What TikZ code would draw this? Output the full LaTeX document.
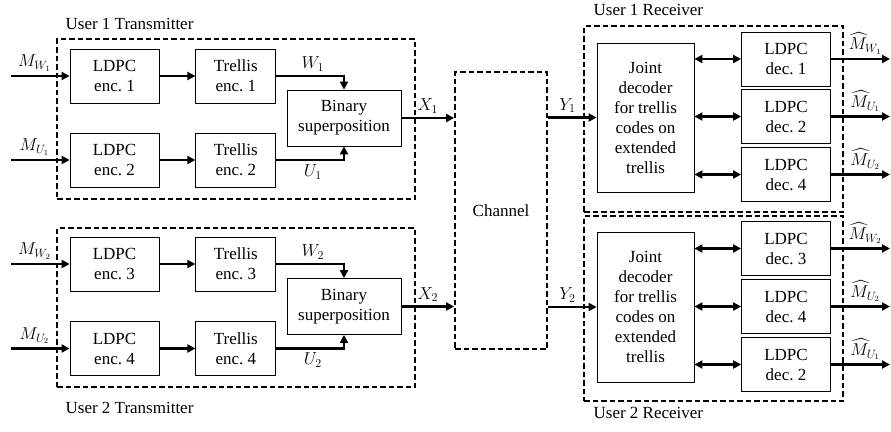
\documentclass[tikz,border=0pt]{standalone}
\usepackage{amsmath}
\usepackage{fontspec}
\setmainfont{Liberation Serif}
\usetikzlibrary{positioning,arrows.meta}

\begin{document}
\begin{tikzpicture}[x=1pt, y=-1pt, font=\fontsize{17}{20}\selectfont,
    block/.style={draw, line width=0.8pt, minimum width=89pt, minimum height=54pt, align=center, inner sep=1pt},
    trellis/.style={block, minimum width=80pt},
    group/.style={draw, line width=1.8pt, dash pattern=on 5.5pt off 3pt, inner sep=0pt},
    sig/.style={line width=2.6pt, -{Triangle[length=8pt,width=8pt]}},
    bisig/.style={line width=2.6pt, {Triangle[length=8pt,width=8pt]}-{Triangle[length=8pt,width=8pt]}}]

    \useasboundingbox (0,0) rectangle (891,431);

    % user 1 transmitter
    \node[block] (le1) at (114.5,76) {LDPC\\enc.~1};
    \node[trellis] (te1) [right=36pt of le1] {Trellis\\enc.~1};
    \node[block] (le2) at (114.5,160) {LDPC\\enc.~2};
    \node[trellis] (te2) [right=36pt of le2] {Trellis\\enc.~2};
    \node[block, minimum width=114pt, minimum height=56pt] (bs1) at (344,118) {Binary\\superposition};
    \node[group, minimum width=358pt, minimum height=160pt] (tx1) at (236,119) {};
    \node[anchor=south west] (tx1lbl) at ([xshift=6pt,yshift=5pt]tx1.north west) {User 1 Transmitter};

    % user 2 transmitter
    \node[block] (le3) at (114.5,264) {LDPC\\enc.~3};
    \node[trellis] (te3) [right=36pt of le3] {Trellis\\enc.~3};
    \node[block] (le4) at (114.5,348.5) {LDPC\\enc.~4};
    \node[trellis] (te4) [right=36pt of le4] {Trellis\\enc.~4};
    \node[block, minimum width=114pt, minimum height=56pt] (bs2) at (344,306.5) {Binary\\superposition};
    \node[group, minimum width=358pt, minimum height=159pt] (tx2) at (236,307.5) {};
    \node[anchor=north west] (tx2lbl) at ([xshift=6pt,yshift=-11pt]tx2.south west) {User 2 Transmitter};

    % channel
    \node[group, minimum width=92pt, minimum height=277pt] (chan) at (501,210.5) {Channel};

    % user 1 receiver
    \node[block, minimum width=97pt, minimum height=149pt] (jd1) at (645.5,117.5)
        {Joint\\decoder\\for trellis\\codes on\\extended\\trellis};
    \node[block] (ld1) at (786,59) {LDPC\\dec.~1};
    \node[block] (ld2) at (786,116.5) {LDPC\\dec.~2};
    \node[block] (ld4) at (786,174.5) {LDPC\\dec.~4};
    \node[group, minimum width=259pt, minimum height=186pt] (rx1) at (713.5,119) {};
    \node[anchor=south west] (rx1lbl) at ([xshift=7pt,yshift=6pt]rx1.north west) {User 1 Receiver};

    % user 2 receiver
    \node[block, minimum width=97pt, minimum height=150pt] (jd2) at (645.5,307)
        {Joint\\decoder\\for trellis\\codes on\\extended\\trellis};
    \node[block] (ld3b) at (786,248.5) {LDPC\\dec.~3};
    \node[block] (ld4b) at (786,306.5) {LDPC\\dec.~4};
    \node[block] (ld2b) at (786,364.5) {LDPC\\dec.~2};
    \node[group, minimum width=259pt, minimum height=185pt] (rx2) at (713.5,308.5) {};
    \node[anchor=north west] (rx2lbl) at ([xshift=7pt,yshift=-2pt]rx2.south west) {User 2 Receiver};

    % free ends
    \coordinate (inW1) at (11,76);
    \coordinate (inU1) at (11,160);
    \coordinate (inW2) at (11,264);
    \coordinate (inU2) at (11,348.5);
    \coordinate (outW1) at (890,59);
    \coordinate (outU1) at (890,116.5);
    \coordinate (outU2) at (890,174.5);
    \coordinate (outW2b) at (890,248.5);
    \coordinate (outU2b) at (890,306.5);
    \coordinate (outU1b) at (890,364.5);

    \path[sig]
        (inW1) edge node[above, pos=0.4] {$M_{W_1}$} (le1)
        (inU1) edge node[above, pos=0.4] {$M_{U_1}$} (le2)
        (inW2) edge node[above, pos=0.4] {$M_{W_2}$} (le3)
        (inU2) edge node[above, pos=0.4] {$M_{U_2}$} (le4)
        (le1) edge (te1)
        (le2) edge (te2)
        (le3) edge (te3)
        (le4) edge (te4);

    \draw[sig] (te1) -| node[above, pos=0.27] {$W_1$} (bs1);
    \draw[sig] (te2) -| node[below, pos=0.27] {$U_1$} (bs1);
    \draw[sig] (te3) -| node[above, pos=0.27] {$W_2$} (bs2);
    \draw[sig] (te4) -| node[below, pos=0.27] {$U_2$} (bs2);

    \draw[sig] (bs1) -- node[above] {$X_1$} (bs1 -| chan.west);
    \draw[sig] (bs2) -- node[above] {$X_2$} (bs2 -| chan.west);
    \draw[sig] (chan.east |- jd1) -- node[above, pos=0.4] {$Y_1$} (jd1);
    \draw[sig] (chan.east |- jd2) -- node[above, pos=0.4] {$Y_2$} (jd2);

    \path[bisig]
        (jd1.east |- ld1) edge (ld1)
        (jd1.east |- ld2) edge (ld2)
        (jd1.east |- ld4) edge (ld4)
        (jd2.east |- ld3b) edge (ld3b)
        (jd2.east |- ld4b) edge (ld4b)
        (jd2.east |- ld2b) edge (ld2b);

    \path[sig]
        (ld1) edge node[above, pos=0.58] {$\widehat{M}_{W_1}$} (outW1)
        (ld2) edge node[above, pos=0.58] {$\widehat{M}_{U_1}$} (outU1)
        (ld4) edge node[above, pos=0.58] {$\widehat{M}_{U_2}$} (outU2)
        (ld3b) edge node[above, pos=0.58] {$\widehat{M}_{W_2}$} (outW2b)
        (ld4b) edge node[above, pos=0.58] {$\widehat{M}_{U_2}$} (outU2b)
        (ld2b) edge node[above, pos=0.58] {$\widehat{M}_{U_1}$} (outU1b);
\end{tikzpicture}
\end{document}
